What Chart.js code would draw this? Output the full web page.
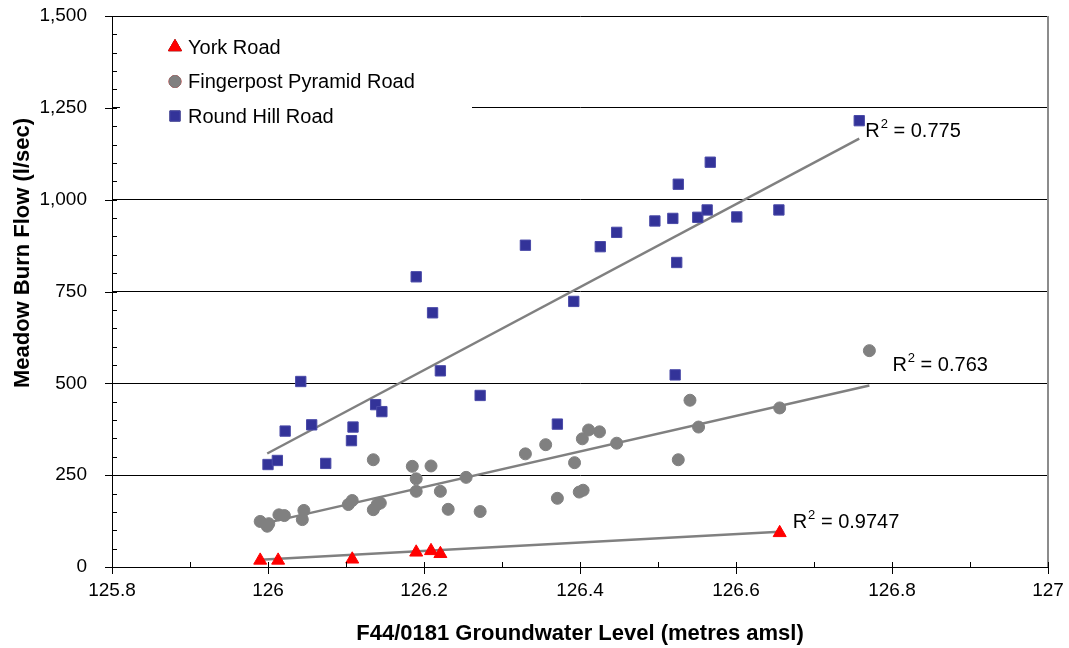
<!DOCTYPE html>
<html>
<head>
<meta charset="utf-8">
<script src="https://cdn.jsdelivr.net/npm/chart.js@4/dist/chart.umd.min.js"></script>
<style>
  html, body { margin: 0; padding: 0; background: #fff; }
  #wrap { width: 1069px; height: 648px; }
</style>
</head>
<body>
<div id="wrap"><canvas id="flowChart" width="1069" height="648"></canvas></div>
<script>
// Groundwater level at F44/0181 against Meadow Burn flow, three gauging sites
const yorkX = [125.990, 126.013, 126.108, 126.190, 126.209, 126.221, 126.656];
const yorkY = [18, 18, 21, 40, 44, 36, 93];

const fingerX = [125.990, 125.999, 126.001, 126.014, 126.021, 126.044, 126.046, 126.103, 126.108,
                 126.135, 126.135, 126.140, 126.144, 126.185, 126.190, 126.190, 126.209, 126.221,
                 126.231, 126.254, 126.272, 126.330, 126.356, 126.371, 126.393, 126.399, 126.404,
                 126.403, 126.411, 126.425, 126.447, 126.526, 126.541, 126.552, 126.656, 126.771];
const fingerY = [124, 111, 118, 142, 140, 129, 154, 170, 181,
                 292, 156, 170, 174, 274, 240, 206, 275, 206,
                 157, 244, 151, 308, 333, 187, 284, 204, 209,
                 349, 373, 368, 337, 292, 454, 381, 433, 589];

const roundX = [126.000, 126.012, 126.022, 126.042, 126.056, 126.074, 126.107, 126.109, 126.138, 126.146,
                126.190, 126.211, 126.221, 126.272, 126.330, 126.371, 126.392, 126.426, 126.447, 126.496,
                126.519, 126.524, 126.522, 126.526, 126.551, 126.563, 126.567, 126.601, 126.655, 126.758];
const roundY = [279, 290, 370, 505, 387, 282, 344, 381, 442, 423,
                790, 692, 534, 467, 876, 389, 723, 872, 911, 942,
                949, 829, 523, 1042, 952, 972, 1102, 953, 972, 1215];

// linear trendline ends
const yorkTrendX = [125.990, 126.656];
const yorkTrendY = [20, 96];
const fingerTrendX = [125.990, 126.771];
const fingerTrendY = [116, 494];
const roundTrendX = [125.999, 126.758];
const roundTrendY = [309, 1166];
const r2Values = ['0.9747', '0.763', '0.775'];

const seriesNames = ['York Road', 'Fingerpost Pyramid Road', 'Round Hill Road'];
const xTitle = 'F44/0181 Groundwater Level (metres amsl)';
const yTitle = 'Meadow Burn Flow (l/sec)';

const xTickValues = [125.8, 126, 126.2, 126.4, 126.6, 126.8, 127];
const xTickLabels = ['125.8', '126', '126.2', '126.4', '126.6', '126.8', '127'];
const yTickValues = [0, 250, 500, 750, 1000, 1250, 1500];
const yTickLabels = ['0', '250', '500', '750', '1,000', '1,250', '1,500'];

const FONT = "'Liberation Sans', Arial, sans-serif";

function pts(xs, ys) {
    return xs.map((x, i) => ({ x: x, y: ys[i] }));
}

// tick marks: major ones cross the axis, minor ones sit inside the plot
const axisTicks = {
    id: 'axisTicks',
    afterDraw(chart) {
        const { ctx, chartArea: a, scales: { x, y } } = chart;
        ctx.save();
        ctx.strokeStyle = '#8c8c8c';
        ctx.lineWidth = 2;
        ctx.beginPath();
        ctx.moveTo(a.right, a.top);
        ctx.lineTo(a.right, a.bottom);
        ctx.stroke();

        ctx.strokeStyle = '#000';
        ctx.lineWidth = 1;
        ctx.beginPath();
        for (let i = 0; i < yTickValues.length; i++) {
            const py = Math.round(y.getPixelForValue(yTickValues[i])) + 0.5;
            ctx.moveTo(a.left - 7, py);
            ctx.lineTo(a.left + 5, py);
            if (i < yTickValues.length - 1) {
                const step = (yTickValues[i + 1] - yTickValues[i]) / 5;
                for (let k = 1; k < 5; k++) {
                    const my = Math.round(y.getPixelForValue(yTickValues[i] + k * step)) + 0.5;
                    ctx.moveTo(a.left, my);
                    ctx.lineTo(a.left + 5, my);
                }
            }
        }
        for (let i = 0; i < xTickValues.length; i++) {
            const px = Math.round(x.getPixelForValue(xTickValues[i])) + 0.5;
            ctx.moveTo(px, a.bottom + 7);
            ctx.lineTo(px, a.bottom - 5);
            if (i < xTickValues.length - 1) {
                const mx = Math.round(x.getPixelForValue((xTickValues[i] + xTickValues[i + 1]) / 2)) + 0.5;
                ctx.moveTo(mx, a.bottom);
                ctx.lineTo(mx, a.bottom - 5);
            }
        }
        ctx.stroke();

        // y title sits a little above the middle of the axis in the original
        ctx.translate(23, 253);
        ctx.rotate(-Math.PI / 2);
        ctx.font = 'bold 22px ' + FONT;
        ctx.fillStyle = '#000';
        ctx.textAlign = 'center';
        ctx.textBaseline = 'middle';
        ctx.fillText(yTitle, 0, 0);
        ctx.restore();
    }
};

// legend box inside the plot, and the R² notes by each trendline
const notes = {
    id: 'notes',
    afterDatasetsDraw(chart) {
        const { ctx, chartArea: a } = chart;
        ctx.save();
        ctx.fillStyle = '#fff';
        ctx.fillRect(a.left + 8, a.top + 6, 352, 112);

        ctx.font = '20px ' + FONT;
        ctx.textBaseline = 'middle';
        ctx.textAlign = 'left';
        for (let i = 0; i < 3; i++) {
            const ds = chart.data.datasets[i];
            const cy = a.top + 31 + i * 34.5;
            Chart.helpers.drawPoint(ctx, {
                pointStyle: ds.pointStyle,
                radius: ds.pointRadius,
                borderWidth: 1
            }, a.left + 63, cy);
            ctx.fillStyle = ds.backgroundColor;
            ctx.strokeStyle = ds.borderColor;
            ctx.fill();
            ctx.stroke();
            ctx.fillStyle = '#000';
            ctx.fillText(ds.label, a.left + 76, cy + 1);
        }

        // R² text, offset from the right end of each trendline
        const offsets = [[13, -9], [23, -20], [6, -7]];
        for (let i = 0; i < 3; i++) {
            const meta = chart.getDatasetMeta(i + 3);
            const end = meta.data[1];
            let tx = end.x + offsets[i][0];
            const ty = end.y + offsets[i][1];
            ctx.fillStyle = '#000';
            ctx.font = '20px ' + FONT;
            ctx.fillText('R', tx, ty);
            tx += ctx.measureText('R').width + 1;
            ctx.font = '13px ' + FONT;
            ctx.fillText('2', tx, ty - 7);
            tx += ctx.measureText('2').width;
            ctx.font = '20px ' + FONT;
            ctx.fillText(' = ' + r2Values[i], tx, ty);
        }
        ctx.restore();
    }
};

const ctx = document.getElementById('flowChart').getContext('2d');
new Chart(ctx, {
    type: 'scatter',
    data: {
        datasets: [
            {
                label: seriesNames[0],
                data: pts(yorkX, yorkY),
                pointStyle: 'triangle',
                pointRadius: 7.5,
                backgroundColor: '#ff0000',
                borderColor: '#ff0000',
                borderWidth: 1,
                order: 1
            },
            {
                label: seriesNames[1],
                data: pts(fingerX, fingerY),
                pointStyle: 'circle',
                pointRadius: 6,
                backgroundColor: '#808080',
                borderColor: '#808080',
                borderWidth: 1,
                order: 1
            },
            {
                label: seriesNames[2],
                data: pts(roundX, roundY),
                pointStyle: 'rect',
                pointRadius: 7.3,
                backgroundColor: '#333399',
                borderColor: '#4a4aa8',
                borderWidth: 1,
                order: 1
            },
            {
                type: 'line', data: pts(yorkTrendX, yorkTrendY),
                borderColor: '#808080', borderWidth: 2.5, pointRadius: 0, order: 2
            },
            {
                type: 'line', data: pts(fingerTrendX, fingerTrendY),
                borderColor: '#808080', borderWidth: 2.5, pointRadius: 0, order: 2
            },
            {
                type: 'line', data: pts(roundTrendX, roundTrendY),
                borderColor: '#808080', borderWidth: 2.5, pointRadius: 0, order: 2
            }
        ]
    },
    options: {
        responsive: false,
        animation: false,
        devicePixelRatio: 1,
        layout: { autoPadding: false, padding: { left: 0, right: 21, top: 16, bottom: 0 } },
        plugins: {
            legend: { display: false },
            tooltip: { enabled: false }
        },
        scales: {
            x: {
                type: 'linear',
                min: 125.8,
                max: 127,
                afterBuildTicks: s => { s.ticks = xTickValues.map(v => ({ value: v })); },
                afterFit: s => {
                    s.height = 81;
                    s.paddingLeft = 0;
                    s.paddingRight = 0;
                },
                grid: { display: false, drawTicks: false },
                border: { display: true, color: '#000', width: 1 },
                ticks: {
                    padding: 12,
                    color: '#000',
                    font: { size: 19, family: FONT },
                    maxRotation: 0,
                    callback: (v, i) => xTickLabels[i]
                },
                title: {
                    display: true,
                    text: xTitle,
                    color: '#000',
                    font: { size: 22, weight: 'bold', family: FONT },
                    padding: { top: 0, bottom: 1 }
                }
            },
            y: {
                type: 'linear',
                min: 0,
                max: 1500,
                afterBuildTicks: s => { s.ticks = yTickValues.map(v => ({ value: v })); },
                afterFit: s => {
                    s.width = 112;
                    s.paddingTop = 0;
                    s.paddingBottom = 0;
                },
                grid: { color: '#000', lineWidth: 1, drawTicks: false },
                border: { display: true, color: '#000', width: 1 },
                ticks: {
                    padding: 25,
                    color: '#000',
                    font: { size: 19, family: FONT },
                    callback: (v, i) => yTickLabels[i]
                },
                title: { display: false }
            }
        }
    },
    plugins: [axisTicks, notes]
});
</script>
</body>
</html>
